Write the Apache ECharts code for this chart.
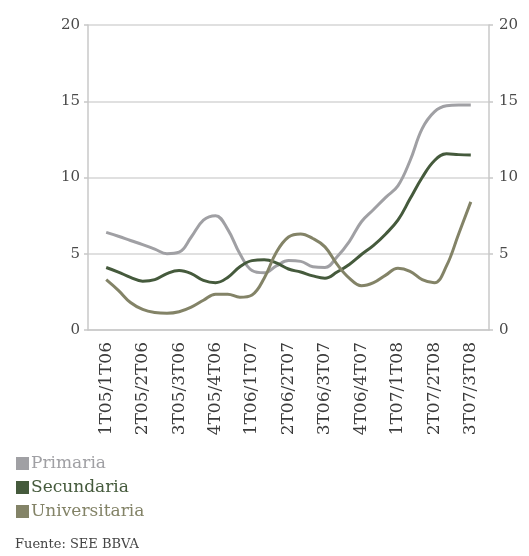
<!DOCTYPE html>
<html>
<head>
<meta charset="utf-8">
<script src="https://cdn.jsdelivr.net/npm/echarts@6/dist/echarts.min.js"></script>
<style>
  html, body { margin: 0; padding: 0; background: #fff; }
  #chart { width: 529px; height: 556px; }
</style>
</head>
<body>
<div id="chart"></div>
<script>
// etiquetas trimestrales del eje x
var trimestres = ['1T05/1T06', '2T05/2T06', '3T05/3T06', '4T05/4T06', '1T06/1T07',
  '2T06/2T07', '3T06/3T07', '4T06/4T07', '1T07/1T08', '2T07/2T08', '3T07/3T08'];

// series (3 puntos por trimestre, 31 puntos)
var primaria = [6.4, 6.15, 5.87, 5.6, 5.3, 5.0, 5.1, 6.1, 7.2, 7.5, 6.6,
  5.0, 3.9, 3.75, 4.2, 4.55, 4.5, 4.15, 4.1, 4.8, 5.8,
  7.1, 7.9, 8.7, 9.45, 11.1, 13.2, 14.3, 14.7, 14.75, 14.75];
var secundaria = [4.1, 3.8, 3.45, 3.2, 3.3, 3.7, 3.9, 3.7, 3.25, 3.1, 3.45,
  4.15, 4.55, 4.6, 4.4, 4.0, 3.8, 3.55, 3.4, 3.8, 4.3,
  4.95, 5.55, 6.3, 7.2, 8.6, 10.0, 11.1, 11.55, 11.5, 11.48];
var universitaria = [3.3, 2.6, 1.8, 1.35, 1.15, 1.1, 1.2, 1.5, 1.95, 2.35, 2.35,
  2.15, 2.3, 3.4, 5.1, 6.1, 6.3, 6.0, 5.45, 4.3, 3.4,
  2.9, 3.1, 3.6, 4.05, 3.85, 3.3, 3.1, 4.2, 6.3, 8.4];

var ticksY = [0, 5, 10, 15, 20];

var puntos = primaria.map(function (v, i) { return String(i); });

var colores = {
  Primaria: '#a0a0a4',
  Secundaria: '#455a3c',
  Universitaria: '#838367'
};
var fuente = 'DejaVu Serif';

var chart = echarts.init(document.getElementById('chart'));

var ejeY = function (pos, margen) {
  return {
    type: 'value',
    gridIndex: 0,
    position: pos,
    min: ticksY[0],
    max: ticksY[ticksY.length - 1],
    interval: 5,
    axisLine: { show: true, lineStyle: { color: '#c8c8c8', width: 1.5 } },
    axisTick: { show: true, length: 4, lineStyle: { color: '#c8c8c8', width: 1.5 } },
    axisLabel: { color: '#4a4a4a', fontFamily: fuente, fontSize: 15, margin: margen },
    splitLine: pos === 'left' ? { show: true, lineStyle: { color: '#d6d6d6', width: 1.5 } } : { show: false }
  };
};

var serie = function (nombre, datos) {
  return {
    name: nombre,
    type: 'line',
    xAxisIndex: 1,
    yAxisIndex: 2,
    data: datos,
    smooth: 0.4,
    symbol: 'none',
    lineStyle: { color: colores[nombre], width: 3 },
    itemStyle: { color: colores[nombre] }
  };
};

chart.setOption({
  animation: false,
  grid: [
    { left: 88, right: 40, top: 25, bottom: 226 },
    { left: 106.2, right: 58.2, top: 25, bottom: 226 }
  ],
  legend: {
    orient: 'vertical',
    left: 11,
    top: 450,
    icon: 'rect',
    itemWidth: 13,
    itemHeight: 13,
    itemGap: 7,
    selectedMode: false,
    textStyle: { fontFamily: fuente, fontSize: 17, padding: [0, 0, 0, -3] },
    data: Object.keys(colores).map(function (n) {
      return { name: n, textStyle: { color: colores[n] } };
    })
  },
  graphic: [{
    type: 'text',
    left: 15,
    top: 538,
    style: { text: 'Fuente: SEE BBVA', fill: '#444', font: '13px "DejaVu Serif"' }
  }],
  xAxis: [
    {
      type: 'category',
      gridIndex: 0,
      data: trimestres,
      boundaryGap: true,
      axisLine: { show: true, lineStyle: { color: '#c8c8c8', width: 1.5 } },
      axisTick: { show: false },
      axisLabel: { rotate: 90, color: '#3a3a3a', fontFamily: fuente, fontSize: 17, margin: 12, interval: 0 }
    },
    {
      type: 'category',
      gridIndex: 1,
      data: puntos,
      boundaryGap: false,
      show: false
    }
  ],
  yAxis: [
    ejeY('left', 8),
    ejeY('right', 10),
    { type: 'value', gridIndex: 1, min: 0, max: 20, show: false }
  ],
  series: [
    serie('Primaria', primaria),
    serie('Secundaria', secundaria),
    serie('Universitaria', universitaria)
  ]
});
</script>
</body>
</html>
